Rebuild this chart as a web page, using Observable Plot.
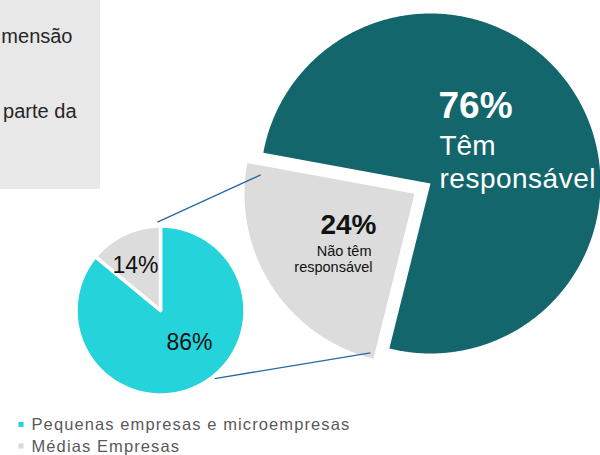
<!DOCTYPE html>
<html><head><meta charset="utf-8">
<script src="https://cdn.jsdelivr.net/npm/d3@7"></script>
<script src="https://cdn.jsdelivr.net/npm/@observablehq/plot@0.6"></script>
<style>
body{margin:0;background:#fff;}
#chart svg{display:block;overflow:hidden;font-family:"Liberation Sans",Arial,sans-serif;}
</style></head><body><div id="chart"></div>
<script>
// ---- data ----
const bigCategories = ["Têm responsável", "Não têm responsável"];
const bigValues = [76, 24];
const bigPctLabels = ["76%", "24%"];
const bigTextLines = [["Têm", "responsável"], ["Não têm", "responsável"]];
const smallCategories = ["Pequenas empresas e microempresas", "Médias Empresas"];
const smallValues = [86, 14];
const smallPctLabels = ["86%", "14%"];
const boxLines = ["mensão", "parte da"];

// ---- layout / style ----
const W = 600, H = 455, deg = Math.PI / 180;
const bigColors = ["#13666c", "#dcdcdc"];
const smallColors = ["#24d4da", "#dcdcdc"];
const BIG = {cx: 430, cy: 183, r: 170, start: 280.4 * deg, explode: [0, 19]};
const SMALL = {cx: 160, cy: 310, r: 84.5, start: 0, explode: [0, 0]};

function pie(values, cats, g) {
  const arcs = d3.pie().sort(null).startAngle(g.start).endAngle(g.start + 2 * Math.PI)(values);
  return arcs.map((a, i) => {
    const mid = (a.startAngle + a.endAngle) / 2, off = g.explode[i] || 0;
    const ox = g.cx + off * Math.sin(mid), oy = g.cy - off * Math.cos(mid);
    const n = Math.max(2, Math.ceil((a.endAngle - a.startAngle) / (0.4 * deg)));
    const pts = [{x: ox, y: oy}];
    for (let j = 0; j <= n; j++) {
      const t = a.startAngle + (a.endAngle - a.startAngle) * j / n;
      pts.push({x: ox + g.r * Math.sin(t), y: oy - g.r * Math.cos(t)});
    }
    pts.push({x: ox, y: oy});
    return {cat: cats[i], cx: ox, cy: oy, a, pts};
  });
}
const big = pie(bigValues, bigCategories, BIG);
const small = pie(smallValues, smallCategories, SMALL);
const polar = (c, r, angDeg) => ({x: c.cx + r * Math.sin(angDeg * deg), y: c.cy - r * Math.cos(angDeg * deg)});
const sp = {cx: SMALL.cx, cy: SMALL.cy};
const greyBig = big[1];
const connectors = [
  {p: polar(sp, 88.5, 358), q: polar(greyBig, 155, 277)},
  {p: polar(sp, 87, 141.5), q: polar(greyBig, 165, 195.5)}
].map(d => ({x1: d.p.x, y1: d.p.y, x2: d.q.x, y2: d.q.y}));

const marks = [
  Plot.rect([{x1: 0, x2: 100, y1: 0, y2: 189}], {x1: "x1", x2: "x2", y1: "y1", y2: "y2", fill: "#e8e8e8"}),
  Plot.text([boxLines[0]], {x: 72, y: 42, text: d => d, textAnchor: "end", lineAnchor: "bottom", fontSize: 20, fill: "#262626"}),
  Plot.text([boxLines[1]], {x: 76, y: 117, text: d => d, textAnchor: "end", lineAnchor: "bottom", fontSize: 20, fill: "#262626"}),
];
big.forEach((s, i) => marks.push(Plot.line(s.pts, {x: "x", y: "y", fill: bigColors[i], stroke: "none"})));
small.forEach((s, i) => marks.push(Plot.line(s.pts, {x: "x", y: "y", fill: smallColors[i], stroke: "white", strokeWidth: 3.5})));
marks.push(Plot.link(connectors, {x1: "x1", y1: "y1", x2: "x2", y2: "y2", stroke: "#2469a4", strokeWidth: 1.3}));
// big pie labels
marks.push(
  Plot.text([bigPctLabels[0]], {x: 438, y: 117, text: d => d, textAnchor: "start", lineAnchor: "bottom", fontSize: 37, fontWeight: "bold", fill: "white"}),
  Plot.text([bigTextLines[0][0]], {x: 439, y: 154, text: d => d, textAnchor: "start", lineAnchor: "bottom", fontSize: 28, fill: "white"}),
  Plot.text([bigTextLines[0][1]], {x: 439, y: 187, text: d => d, textAnchor: "start", lineAnchor: "bottom", fontSize: 28, fill: "white"}),
  Plot.text([bigPctLabels[1]], {x: 376, y: 233, text: d => d, textAnchor: "end", lineAnchor: "bottom", fontSize: 28, fontWeight: "bold", fill: "#111"}),
  Plot.text([bigTextLines[1][0]], {x: 371, y: 255, text: d => d, textAnchor: "end", lineAnchor: "bottom", fontSize: 14.5, fill: "#111"}),
  Plot.text([bigTextLines[1][1]], {x: 372, y: 271, text: d => d, textAnchor: "end", lineAnchor: "bottom", fontSize: 14.5, fill: "#111"}),
  Plot.text([smallPctLabels[1]], {x: 112, y: 272, text: d => d, textAnchor: "start", lineAnchor: "bottom", fontSize: 23, fill: "#111"}),
  Plot.text([smallPctLabels[0]], {x: 166, y: 349, text: d => d, textAnchor: "start", lineAnchor: "bottom", fontSize: 23, fill: "#111"})
);
// legend
const legend = smallCategories.map((c, i) => ({c, i}));
marks.push(
  Plot.dot(legend, {x: 20.5, y: d => 424 + d.i * 21.5, symbol: "square", r: 2.9, fill: d => d.i === 0 ? "#24d4da" : "#d9d9d9", stroke: "none"}),
  Plot.text(legend, {x: 31, y: d => 429.5 + d.i * 22, text: "c", textAnchor: "start", lineAnchor: "bottom", fontSize: 16.5, fill: "#595959"})
);

const chart = Plot.plot({
  width: W, height: H,
  margin: 0,
  x: {domain: [0, W], range: [0, W], axis: null},
  y: {domain: [0, H], range: [0, H], axis: null},
  color: {type: "identity"},
  marks
});
d3.select(chart).selectAll("text")
  .filter(function() { return smallCategories.includes(this.textContent); })
  .style("letter-spacing", "1.1px");
d3.select(chart).selectAll("text")
  .filter(function() { return this.textContent === "responsável" && +this.closest("g").getAttribute("font-size") === 28; })
  .style("letter-spacing", "0.5px");
document.getElementById("chart").append(chart);
</script>
</body></html>
